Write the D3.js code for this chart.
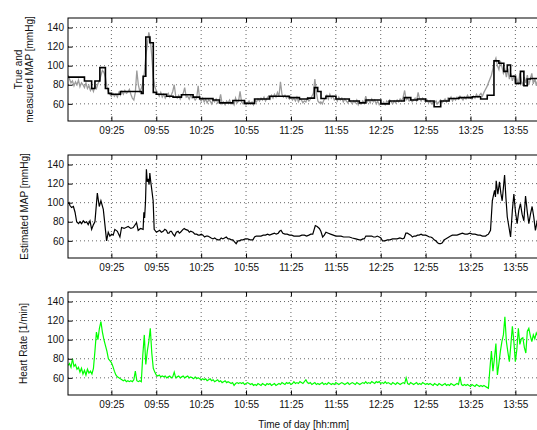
<!DOCTYPE html>
<html>
<head>
<meta charset="utf-8">
<script src="https://cdn.jsdelivr.net/npm/d3@7"></script>
<style>
  body { margin: 0; background: #fff; }
  svg { display: block; font-family: "Liberation Sans", Arial, Helvetica, sans-serif; }
  .tick text { font-size: 10px; fill: #111; }
  .label { font-size: 10px; fill: #111; }
</style>
</head>
<body>
<div id="chart"></div>
<script>
////////////////////////////////////////////////////////////////////
////////////////////////////  Data  ////////////////////////////////
// time in minutes after 08:56
const startTime = "08:56";
const xTickLabels = ["09:25", "09:55", "10:25", "10:55", "11:25", "11:55", "12:25", "12:55", "13:25", "13:55"];
const yTicks = [60, 80, 100, 120, 140];

// true MAP (step signal), [minute, mmHg]
const trueMap = [
  [0, 88], [11, 84], [15.8, 76], [18, 84], [21.3, 98], [25, 76], [27, 71], [29, 70], [35, 73],
  [49, 71], [50.2, 89], [52, 130], [54.7, 124], [57, 72], [59, 70], [65.8, 68], [70.2, 67],
  [75.8, 69.5], [83.6, 67], [88, 65.5], [96.9, 64], [101.3, 61], [110.2, 63.5], [118, 60.5],
  [124.7, 65], [134.7, 68], [148, 66.5], [154.7, 65], [160.2, 66], [164.7, 77], [166.9, 73],
  [169.1, 65.6], [172.4, 68], [179.1, 65], [188, 63], [194.7, 61], [199.1, 64], [209.1, 60],
  [214.7, 63], [224.7, 66.5], [229.1, 64], [233.6, 65], [239.1, 63], [244.7, 57], [249.1, 63],
  [254.7, 65.6], [261.3, 66.5], [270.2, 67.5], [275.8, 65], [280.2, 69], [284.7, 105],
  [288, 102.5], [291.3, 94], [293.6, 100.7], [295.8, 89], [299.1, 81.5], [302.4, 94],
  [304.7, 79], [306.9, 86], [309.1, 86.5], [315, 86.5]
];

// measured MAP, one sample every minute
const measuredStep = 1;
const measuredMap = [
  90, 86, 82, 84, 79, 83, 80, 85, 78, 82,
  80, 77, 82, 76, 79, 74, 77, 73, 79, 76,
  81, 84, 90, 95, 93, 88, 78, 72, 70, 68,
  71, 68, 70, 67, 72, 69, 73, 70, 74, 71,
  72, 75, 70, 66, 64, 72, 95, 80, 73, 76,
  82, 92, 110, 122, 135, 128, 110, 88, 78, 74,
  71, 68, 72, 67, 70, 66, 69, 71, 67, 69,
  73, 80, 68, 66, 69, 65, 68, 71, 77, 67,
  68, 65, 69, 66, 67, 64, 66, 79, 65, 63,
  66, 62, 65, 61, 64, 63, 60, 64, 62, 65,
  61, 63, 70, 60, 62, 59, 63, 61, 64, 60,
  62, 59, 66, 61, 63, 73, 62, 60, 63, 59,
  61, 63, 60, 62, 59, 64, 62, 65, 63, 66,
  64, 67, 63, 66, 68, 65, 69, 66, 70, 67,
  72, 68, 83, 70, 67, 69, 66, 68, 65, 67,
  64, 66, 63, 67, 62, 65, 64, 61, 63, 62,
  66, 63, 65, 68, 71, 86, 72, 63, 61, 62,
  60, 64, 66, 69, 65, 70, 66, 68, 64, 66,
  63, 67, 64, 66, 62, 65, 63, 61, 64, 62,
  60, 63, 61, 64, 59, 62, 60, 63, 61, 68,
  62, 64, 61, 65, 62, 64, 60, 63, 59, 61,
  60, 62, 59, 63, 61, 64, 62, 60, 63, 61,
  64, 62, 65, 63, 67, 74, 64, 66, 63, 65,
  62, 64, 66, 63, 72, 65, 63, 66, 64, 62,
  64, 61, 63, 60, 62, 61, 63, 60, 62, 64,
  61, 63, 65, 62, 66, 64, 67, 63, 66, 64,
  67, 65, 68, 66, 64, 67, 65, 69, 66, 68,
  65, 68, 66, 70, 67, 69, 71, 68, 72, 75,
  78, 82, 86, 90, 97, 104, 108, 100, 96, 105,
  99, 92, 96, 88, 97, 86, 92, 84, 90, 82,
  86, 80, 92, 84, 79, 88, 82, 90, 80, 86,
  92, 81, 87, 79, 85
];

// estimated MAP, [minute, mmHg]
const estimatedMap = [
  [0, 99], [0.7, 100], [1.3, 97], [2.4, 95], [3.6, 96], [4.7, 90], [5.8, 80], [7, 78], [8, 80],
  [9.1, 78], [10.2, 81], [11.3, 79], [12.4, 80], [13.5, 77], [14.7, 81], [15.8, 72], [17, 77],
  [18, 80], [19.6, 110], [20.9, 96], [22, 102], [23.6, 93], [25.8, 60], [26.9, 69], [28, 65],
  [29.1, 67], [30.2, 66], [31.3, 72], [33, 70], [34.7, 64], [35.8, 74], [37.5, 73], [40.2, 75],
  [42, 73], [43.6, 74], [45.8, 79], [46.9, 71], [48.5, 73], [50.2, 72], [50.7, 90], [51.2, 84],
  [51.8, 101], [52.4, 135], [53, 122], [53.6, 125], [54.2, 119], [54.7, 131], [55.3, 122],
  [55.8, 116], [56.9, 102], [57.6, 72], [59.1, 69], [60.2, 70], [61.3, 71], [62.4, 69],
  [63.6, 70], [64.7, 72], [65.8, 71], [66.6, 68], [67.5, 68], [68.3, 70], [69.1, 70],
  [70.2, 67], [71.3, 65], [72.4, 69], [73.6, 70], [74.4, 68], [75.2, 69], [76.9, 72],
  [77.7, 73], [78.5, 72], [80.2, 71], [81.1, 69], [82, 70], [83.6, 69], [84.8, 67], [86, 67],
  [87, 66], [88, 66], [89.1, 67], [90.2, 66], [91.3, 64], [92.4, 65], [93.5, 65], [94.6, 64],
  [95.7, 63], [96.9, 62], [98, 63], [99, 62], [100.1, 61], [101.3, 61], [102.4, 63],
  [103.5, 62], [104.6, 63], [105.8, 64], [107, 62], [108, 62], [109.1, 61], [110.2, 61],
  [111.3, 59], [112.4, 57], [113.5, 60], [114.6, 60], [115.7, 61], [116.9, 61], [118.5, 62],
  [120, 62], [121.8, 61], [123.6, 61], [124.7, 64], [125.8, 65], [127.4, 65], [129, 65],
  [130.5, 66], [132, 66], [133.4, 67], [134.7, 66], [136.3, 67], [138, 68], [139.2, 67],
  [140.5, 68], [141.4, 70], [142.4, 71], [143.6, 68], [145, 67], [146.5, 67], [148, 66],
  [149.5, 66], [151, 65], [152.8, 65], [154.7, 65], [156.3, 66], [158, 66], [159.5, 65],
  [161, 66], [162.3, 67], [163.6, 67], [165.3, 76], [166.5, 75], [168, 73], [169, 70],
  [170.2, 64], [171.3, 66], [172.4, 69], [174, 68], [175.5, 67], [177.3, 66], [179.1, 65],
  [180.8, 65], [182.5, 65], [184.2, 64], [185.8, 64], [188, 64], [190, 63], [192.4, 62],
  [194.7, 61], [196, 61], [197, 62], [198, 62], [199.1, 65], [201, 65], [203, 65], [204.2, 64],
  [205.5, 64], [206.7, 65], [208, 64], [209.1, 63], [210.2, 60], [211.8, 60], [213.5, 61],
  [215.2, 61], [216.9, 62], [218.5, 62], [220, 62], [221.8, 63], [223.6, 62], [224.7, 63],
  [225.8, 68], [226.9, 68], [228, 67], [229.1, 66], [230.2, 64], [231.3, 65], [232.5, 65],
  [233.6, 66], [234.7, 66], [236, 67], [237, 66], [238, 66], [239.1, 66], [240.3, 65],
  [241.5, 64], [242.5, 64], [243.6, 63], [244.7, 61], [245.8, 60], [247, 58], [248, 57],
  [249.1, 57], [250.2, 58], [251.3, 61], [252.4, 62], [253.5, 63], [254.6, 64], [255.7, 65],
  [256.9, 66], [258.5, 66], [260, 66], [261.8, 67], [263.6, 68], [265.3, 67], [267, 67],
  [268.6, 68], [270.2, 67], [272, 67], [274, 66], [275.5, 66], [277, 65], [278, 65],
  [279.1, 65], [280, 66], [281, 67], [282.4, 71], [283.6, 102], [284.4, 108], [285.1, 113],
  [285.7, 106], [286.2, 123], [287.3, 109], [288.4, 122], [289.3, 110], [290.2, 102],
  [291.8, 129], [292.7, 105], [293.6, 85], [295.8, 64], [297, 92], [298, 109], [299.1, 90],
  [300.2, 78], [301.3, 92], [302.4, 99], [303.5, 88], [304.7, 81], [305.8, 107], [307, 90],
  [308, 78], [309.1, 88], [310.2, 96], [311.3, 85], [312.4, 71], [313.5, 80], [314.5, 76]
];

// heart rate, one sample every minute
const heartStep = 1;
const heartRate = [
  73, 75, 71, 80, 72, 74, 69, 71, 66, 70,
  64, 68, 63, 69, 65, 67, 64, 70, 88, 108,
  100, 112, 119, 108, 100, 94, 88, 80, 78, 76,
  72, 67, 63, 61, 60, 59, 58, 57, 58, 56,
  57, 56, 57, 56, 58, 67, 57, 56, 57, 56,
  84, 105, 74, 88, 98, 112, 86, 70, 66, 63,
  62, 63, 61, 62, 61, 62, 60, 61, 62, 60,
  61, 66, 60, 61, 62, 60, 61, 62, 60, 61,
  62, 60, 61, 60, 59, 61, 59, 60, 59, 58,
  59, 58, 59, 57, 58, 59, 57, 58, 56, 57,
  58, 56, 57, 55, 56, 57, 55, 56, 55, 54,
  55, 52, 54, 55, 54, 55, 54, 55, 53, 54,
  55, 54, 53, 54, 52, 53, 52, 54, 53, 52,
  54, 53, 52, 54, 53, 54, 52, 53, 54, 52,
  53, 54, 53, 55, 54, 53, 55, 54, 55, 53,
  54, 56, 54, 55, 54, 56, 55, 54, 56, 58,
  55, 54, 55, 53, 54, 55, 53, 54, 53, 54,
  55, 53, 54, 53, 55, 54, 53, 54, 53, 55,
  54, 53, 54, 55, 54, 53, 54, 55, 53, 54,
  55, 54, 53, 55, 54, 53, 54, 55, 54, 56,
  54, 55, 54, 56, 55, 54, 56, 55, 56, 54,
  55, 54, 56, 54, 55, 54, 53, 55, 54, 53,
  55, 54, 53, 54, 55, 54, 60, 54, 53, 55,
  54, 53, 54, 55, 53, 54, 53, 55, 54, 53,
  54, 53, 54, 53, 52, 54, 53, 52, 54, 53,
  52, 53, 54, 52, 53, 52, 54, 53, 52, 53,
  54, 53, 61, 53, 52, 53, 52, 53, 52, 51,
  53, 52, 51, 53, 52, 51, 52, 51, 52, 51,
  50, 49, 70, 88, 67, 80, 96, 63, 75, 88,
  98, 105, 124, 98, 87, 77, 95, 114, 98, 77,
  90, 112, 95, 101, 102, 92, 86, 109, 112, 104,
  98, 105, 101, 107, 104
];

////////////////////////////////////////////////////////////////////
////////////////////////////  Init  ////////////////////////////////
const width = 537, height = 430;
const left = 68, right = 539.3;
const panelH = 103;
const tickLen = 4.5;

const svg = d3.select("#chart").append("svg")
  .attr("width", width).attr("height", height);

const parseTime = d3.timeParse("%H:%M");
const t0 = parseTime(startTime);
const toDate = (m) => new Date(t0.getTime() + m * 60000);

const x = d3.scaleTime()
  .domain([toDate(0), toDate(315)])
  .range([left, right]);
const xTickValues = xTickLabels.map(parseTime);

const panels = [
  {
    top: 18,
    label: ["True and", "measured MAP [mmHg]"],
    labelX: [18.5, 29.5],
    series: [
      { data: measuredMap.map((v, i) => [i * measuredStep, v]), color: "#9c9c9c", w: 1.3 },
      { data: trueMap, color: "#000", w: 1.6, step: true }
    ]
  },
  {
    top: 155,
    label: ["Estimated MAP [mmHg]"],
    labelX: [24],
    series: [{ data: estimatedMap, color: "#000", w: 1.2 }]
  },
  {
    top: 292,
    label: ["Heart Rate [1/min]"],
    labelX: [23],
    series: [{ data: heartRate.map((v, i) => [i * heartStep, v]), color: "#00ff00", w: 1.2 }]
  }
];

panels.forEach((p, pi) => {
  const bottom = p.top + panelH;
  const y = d3.scaleLinear().domain([42, 150]).range([bottom, p.top]);
  const g = svg.append("g");

  // grid (dotted)
  g.append("g").selectAll("line")
    .data(yTicks)
    .join("line")
    .attr("x1", left).attr("x2", right)
    .attr("y1", (d) => y(d)).attr("y2", (d) => y(d))
    .attr("stroke", "#555").attr("stroke-width", 0.9)
    .attr("stroke-dasharray", "1,3");
  g.append("g").selectAll("line")
    .data(xTickValues)
    .join("line")
    .attr("x1", (d) => x(d)).attr("x2", (d) => x(d))
    .attr("y1", p.top).attr("y2", bottom)
    .attr("stroke", "#555").attr("stroke-width", 0.9)
    .attr("stroke-dasharray", "1,3");

  // clip
  const clipId = "clip" + pi;
  svg.append("clipPath").attr("id", clipId)
    .append("rect")
    .attr("x", left).attr("y", p.top)
    .attr("width", right - left).attr("height", panelH);

  p.series.forEach((s) => {
    const line = d3.line()
      .x((d) => x(toDate(d[0])))
      .y((d) => y(d[1]))
      .curve(s.step ? d3.curveStepAfter : d3.curveLinear);
    g.append("path")
      .datum(s.data)
      .attr("clip-path", `url(#${clipId})`)
      .attr("fill", "none")
      .attr("stroke", s.color)
      .attr("stroke-width", s.w)
      .attr("stroke-linejoin", "miter")
      .attr("d", line);
  });

  // axes (ticks inward)
  const yAxis = d3.axisLeft(y).tickValues(yTicks).tickSize(-tickLen).tickSizeOuter(0).tickPadding(4);
  g.append("g").attr("transform", `translate(${left},0)`).call(yAxis)
    .call((a) => a.select(".domain").remove());

  const xAxis = d3.axisBottom(x).tickValues(xTickValues).tickFormat(d3.timeFormat("%H:%M"))
    .tickSize(-tickLen).tickSizeOuter(0).tickPadding(6);
  g.append("g").attr("transform", `translate(0,${bottom})`).call(xAxis)
    .call((a) => a.select(".domain").remove());

  const xTop = d3.axisTop(x).tickValues(xTickValues).tickFormat("")
    .tickSize(-tickLen).tickSizeOuter(0);
  g.append("g").attr("transform", `translate(0,${p.top})`).call(xTop)
    .call((a) => a.select(".domain").remove());

  g.selectAll(".tick line").attr("stroke", "#000");

  // box
  g.append("rect")
    .attr("x", left).attr("y", p.top)
    .attr("width", right - left).attr("height", panelH)
    .attr("fill", "none").attr("stroke", "#000").attr("stroke-width", 1);

  // y label
  const cy = p.top + panelH / 2;
  p.label.forEach((txt, li) => {
    g.append("text")
      .attr("class", "label")
      .attr("transform", `translate(${p.labelX[li]},${cy}) rotate(-90)`)
      .attr("text-anchor", "middle")
      .attr("dy", "0.35em")
      .text(txt);
  });
});

svg.append("text")
  .attr("class", "label")
  .attr("x", (left + right) / 2)
  .attr("y", 428)
  .attr("text-anchor", "middle")
  .text("Time of day [hh:mm]");
</script>
</body>
</html>
